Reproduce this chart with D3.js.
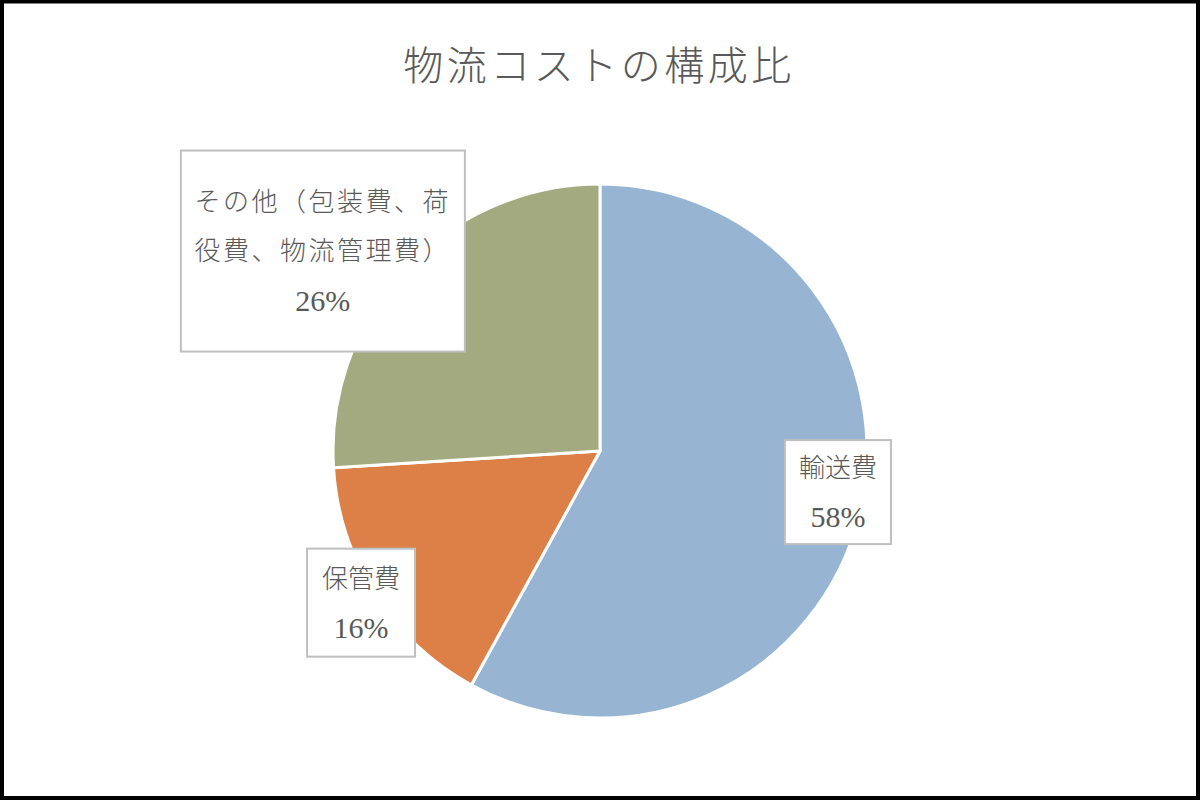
<!DOCTYPE html>
<html>
<head>
<meta charset="utf-8">
<script src="https://cdn.jsdelivr.net/npm/d3@7"></script>
<style>
    html, body { margin: 0; padding: 0; background: #fff; }
    svg { display: block; }
</style>
</head>
<body>
<div id="chart"></div>
<script>
// Data
const categories = ['輸送費', '保管費', 'その他（包装費、荷役費、物流管理費）'];
const values = [58, 16, 26];
const labelLines = [
    ['輸送費'],
    ['保管費'],
    ['その他（包装費、荷', '役費、物流管理費）']
];
const colours = ['#97b5d2', '#dc8047', '#a4aa7f'];

const width = 1200;
const height = 800;
const cx = 600;
const cy = 451;
const radius = 267;
const fontFamily = '"Liberation Serif", "Noto Sans CJK JP", serif';
const textColour = '#595959';

// Label box layout: radius (fraction of pie radius) for the box centre, plus box size
const labelLayout = [
    { r: 0.92, dx: 0, dy: -20, w: 106, h: 104 },
    { r: 1.06, dx: 0, dy: 0, w: 108, h: 108 },
    { r: 1.28, dx: -28, dy: 34, w: 284, h: 201 }
];

const svg = d3.select('#chart')
    .append('svg')
    .attr('width', width)
    .attr('height', height);

// Outer frame
svg.append('rect')
    .attr('x', 2).attr('y', 1.5)
    .attr('width', width - 4).attr('height', height - 3.5)
    .attr('fill', '#fff')
    .attr('stroke', '#000')
    .attr('stroke-width', 4);

// Title
svg.append('text')
    .attr('x', 599)
    .attr('y', 80)
    .attr('text-anchor', 'middle')
    .attr('fill', textColour)
    .style('font-family', fontFamily)
    .style('font-size', '40px')
    .style('font-weight', 300)
    .style('letter-spacing', '3.5px')
    .text('物流コストの構成比');

const data = categories.map((c, i) => ({ name: c, value: values[i], lines: labelLines[i], colour: colours[i], layout: labelLayout[i] }));

const pie = d3.pie()
    .sort(null)
    .value(d => d.value);

const arc = d3.arc()
    .innerRadius(0)
    .outerRadius(radius);

const arcs = pie(data);

const g = svg.append('g')
    .attr('transform', `translate(${cx},${cy})`);

g.selectAll('path')
    .data(arcs)
    .join('path')
    .attr('d', arc)
    .attr('fill', d => d.data.colour)
    .attr('stroke', '#fff')
    .attr('stroke-width', 3)
    .attr('stroke-linejoin', 'round');

// Data labels with boxes
const label = g.selectAll('g.label')
    .data(arcs)
    .join('g')
    .attr('class', 'label')
    .attr('transform', d => {
        const L = d.data.layout;
        const a = (d.startAngle + d.endAngle) / 2;
        const r = radius * L.r;
        const x = Math.sin(a) * r + L.dx;
        const y = -Math.cos(a) * r + L.dy;
        return `translate(${x},${y})`;
    });

label.append('rect')
    .attr('x', d => -d.data.layout.w / 2)
    .attr('y', d => -d.data.layout.h / 2)
    .attr('width', d => d.data.layout.w)
    .attr('height', d => d.data.layout.h)
    .attr('fill', '#fff')
    .attr('stroke', '#bfbfbf')
    .attr('stroke-width', 2);

const lineHeight = 49;

label.each(function(d) {
    const lines = d.data.lines.concat([`${d.data.value}%`]);
    const top = -((lines.length - 1) * lineHeight) / 2;
    const t = d3.select(this).append('text')
        .attr('text-anchor', 'middle')
        .attr('fill', textColour)
        .style('font-family', fontFamily)
        .style('font-weight', 300)
        .style('font-size', '26px');
    lines.forEach((line, i) => {
        const isPct = i === lines.length - 1;
        t.append('tspan')
            .attr('x', 0)
            .attr('y', top + i * lineHeight)
            .attr('dy', '0.36em')
            .style('font-size', isPct ? '30px' : '26px')
            .style('letter-spacing', line.length > 6 ? '2.5px' : '0px')
            .text(line);
    });
});
</script>
</body>
</html>
